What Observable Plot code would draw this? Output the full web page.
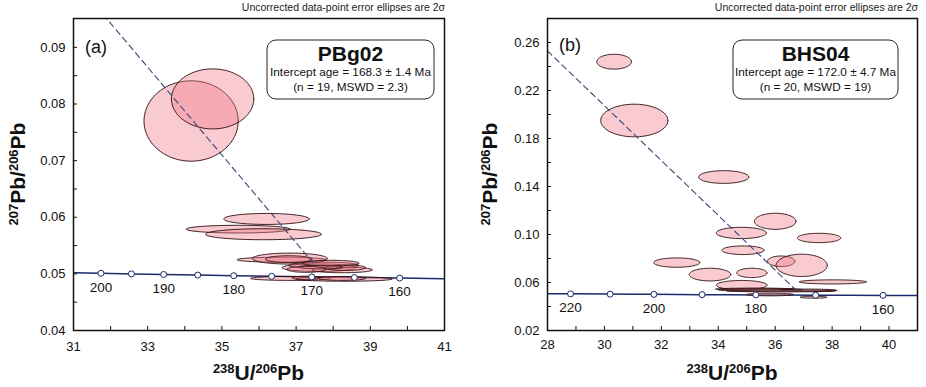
<!DOCTYPE html>
<html><head><meta charset="utf-8">
<script src="https://cdn.jsdelivr.net/npm/d3@7"></script>
<script src="https://cdn.jsdelivr.net/npm/@observablehq/plot@0.6"></script>
<style>
body{margin:0;background:#fff;}
#wrap{display:flex;width:926px;height:387px;overflow:hidden;}
svg{display:block;}
</style></head><body><div id="wrap"></div>
<script>
// ---------- data ----------
const noteText = "Uncorrected data-point error ellipses are 2σ";

// Concordia curve nodes (age Ma, 238U/206Pb, 207Pb/206Pb)
const concordiaAge = [150,155,160,165,170,175,180,185,190,195,200,205,210,220,230];
const concordiaU   = [42.48,41.09,39.79,38.57,37.42,36.34,35.32,34.35,33.43,32.56,31.74,30.95,30.20,28.81,27.53];
const concordiaPb  = [0.04905,0.04915,0.04926,0.04936,0.04947,0.04957,0.04968,0.04979,0.04989,0.05000,0.05011,0.05022,0.05032,0.05054,0.05076];

// Panel (a) PBg02
const sampleA = "PBg02";
const interceptA = "Intercept age = 168.3 ± 1.4 Ma";
const statsA = "(n = 19, MSWD = 2.3)";
const markerAgesA = [160,165,170,175,180,185,190,195,200];
const labelAgesA = [160,170,180,190,200];
const ellA_x  = [34.17,34.75,36.20,35.44,36.12,36.60,36.83,36.80,37.61,37.75,38.24,38.33,37.66,37.27,37.93,36.85,38.29,38.24,37.25];
const ellA_y  = [0.0770,0.0809,0.0597,0.0579,0.0570,0.0525,0.0527,0.0526,0.0511,0.0515,0.0507,0.0511,0.0512,0.0508,0.0519,0.0492,0.0491,0.0492,0.0493];
const ellA_rx = [1.27,1.11,1.15,1.40,1.56,1.19,1.01,0.63,0.99,0.94,0.81,0.54,0.58,0.52,0.76,1.08,1.30,0.63,0.36];
const ellA_ry = [0.0071,0.0053,0.00097,0.00068,0.00097,0.00044,0.00097,0.0006,0.00068,0.00059,0.0005,0.0005,0.00035,0.00053,0.0005,0.00035,0.0004,0.00035,0.0003];
const discA_x = [31.80,37.45];
const discA_y = [0.0958,0.0520];
const xTicksA = [31,32,33,34,35,36,37,38,39,40,41];
const xLabelsA = [31,33,35,37,39,41];
const yTicksA = [0.04,0.045,0.05,0.055,0.06,0.065,0.07,0.075,0.08,0.085,0.09];
const yLabelsA = [0.04,0.05,0.06,0.07,0.08,0.09];

// Panel (b) BHS04
const sampleB = "BHS04";
const interceptB = "Intercept age = 172.0 ± 4.7 Ma";
const statsB = "(n = 20, MSWD = 19)";
const markerAgesB = [160,170,180,190,200,210,220];
const labelAgesB = [160,180,200,220];
const ellB_x  = [30.34,31.05,34.19,36.00,34.81,37.54,34.87,32.54,36.21,36.93,33.71,35.18,34.82,38.02,35.49,37.17,35.82,37.34,35.30,36.20];
const ellB_y  = [0.244,0.195,0.1479,0.111,0.1013,0.0971,0.0869,0.0766,0.0777,0.0743,0.0666,0.068,0.0578,0.0605,0.0539,0.0535,0.0500,0.0477,0.0545,0.0530];
const ellB_rx = [0.61,1.18,0.88,0.73,0.88,0.76,0.74,0.81,0.48,0.90,0.73,0.53,0.89,1.18,1.49,1.00,0.82,0.47,1.40,1.90];
const ellB_ry = [0.0062,0.0136,0.0053,0.0067,0.0047,0.0039,0.0036,0.0039,0.0044,0.0093,0.0053,0.0039,0.0039,0.0017,0.0012,0.0010,0.0011,0.0008,0.0008,0.0008];
const discB_x = [28.0,36.8];
const discB_y = [0.253,0.052];
const xTicksB = [28,29,30,31,32,33,34,35,36,37,38,39,40,41];
const xLabelsB = [28,30,32,34,36,38,40];
const yTicksB = [0.02,0.04,0.06,0.08,0.10,0.12,0.14,0.16,0.18,0.20,0.22,0.24,0.26,0.28];
const yLabelsB = [0.02,0.06,0.10,0.14,0.18,0.22,0.26];

// ---------- helpers ----------
const FONT = '"Liberation Sans", Arial, Helvetica, sans-serif';
const NAVY = "#1c2a6b";

const concordia = concordiaAge.map((a, i) => ({age: a, x: concordiaU[i], y: concordiaPb[i]}));
function ellipseRows(xs, ys, rxs, rys) {
  const rows = [];
  xs.forEach((cx, i) => {
    for (let k = 0; k <= 80; k++) {
      const t = 2 * Math.PI * k / 80;
      rows.push({id: i, x: cx + rxs[i] * Math.cos(t), y: ys[i] + rys[i] * Math.sin(t)});
    }
  });
  return rows;
}

function panel(cfg) {
  const markers = concordia.filter(d => cfg.markerAges.includes(d.age));
  const labels = concordia.filter(d => cfg.labelAges.includes(d.age));
  const disc = cfg.discX.map((x, i) => ({x, y: cfg.discY[i]}));
  const ells = ellipseRows(cfg.ex, cfg.ey, cfg.erx, cfg.ery);
  const chart = Plot.plot({
    width: cfg.width, height: 387,
    marginLeft: cfg.ml, marginRight: cfg.mr, marginTop: 18, marginBottom: 57,
    style: {fontFamily: FONT, fontSize: "13px", color: "#111", background: "white", overflow: "visible"},
    x: {domain: cfg.xDomain},
    y: {domain: cfg.yDomain},
    marks: [
      Plot.line(concordia, {x: "x", y: "y", stroke: NAVY, strokeWidth: 1.5, clip: true}),
      Plot.line(ells, {x: "x", y: "y", z: "id", fill: "#f07a8a", fillOpacity: 0.4, stroke: "#2a0f10", strokeWidth: 0.9, clip: true}),
      Plot.line(disc, {x: "x", y: "y", stroke: "#3a4878", strokeWidth: 1.1, strokeDasharray: "6,4", clip: true}),
      Plot.dot(markers, {x: "x", y: "y", r: 3, fill: "white", stroke: NAVY, strokeWidth: 1}),
      Plot.text(labels, {x: "x", y: "y", text: d => String(d.age), dy: 14, fontSize: 13.5, fill: "#111"}),
      Plot.axisX({ticks: cfg.xTicks, tickFormat: d => cfg.xLabels.includes(d) ? String(d) : "", tickSize: -4, tickPadding: cfg.xPad, label: null}),
      Plot.axisY({ticks: cfg.yTicks, tickFormat: d => cfg.yLabels.includes(d) ? d.toFixed(2) : "", tickSize: -4, tickPadding: 12, label: null}),
      Plot.frame({stroke: "#111", strokeWidth: 1.5})
    ]
  });
  const svg = d3.select(chart);
  const W = cfg.width, fr = W - cfg.mr, fl = cfg.ml;
  // note
  svg.append("text").attr("x", fr + 1).attr("y", 11).attr("text-anchor", "end")
    .attr("font-size", 10.5).attr("fill", "#222").text(noteText);
  // panel letter
  svg.append("text").attr("x", fl + 12).attr("y", cfg.letterY).attr("text-anchor", "start")
    .attr("font-size", 18).attr("fill", "#111").text(cfg.letter);
  // info box
  const bx = cfg.boxX, bw = cfg.boxW, by = 40, bh = 59, cx = bx + bw / 2;
  svg.append("rect").attr("x", bx).attr("y", by).attr("width", bw).attr("height", bh)
    .attr("rx", 9).attr("fill", "white").attr("stroke", "#222").attr("stroke-width", 1);
  svg.append("text").attr("x", cx).attr("y", 61).attr("text-anchor", "middle")
    .attr("font-size", 21).attr("font-weight", "bold").attr("fill", "#111").text(cfg.sample);
  svg.append("text").attr("x", cx).attr("y", 75.5).attr("text-anchor", "middle")
    .attr("font-size", 11.8).attr("fill", "#111").text(cfg.intercept);
  svg.append("text").attr("x", cx).attr("y", 91).attr("text-anchor", "middle")
    .attr("font-size", 11.8).attr("fill", "#111").text(cfg.stats);
  // x title
  const xt = svg.append("text").attr("x", (fl + fr) / 2).attr("y", 380).attr("text-anchor", "middle")
    .attr("font-weight", "bold").attr("fill", "#111");
  xt.append("tspan").attr("font-size", 13).attr("dy", -7).text("238");
  xt.append("tspan").attr("font-size", 21).attr("dy", 7).text("U/");
  xt.append("tspan").attr("font-size", 13).attr("dy", -7).text("206");
  xt.append("tspan").attr("font-size", 21).attr("dy", 7).text("Pb");
  // y title
  const yt = svg.append("text").attr("transform", `translate(${cfg.yTitleX},174) rotate(-90)`)
    .attr("text-anchor", "middle").attr("font-weight", "bold").attr("fill", "#111");
  yt.append("tspan").attr("font-size", 13).attr("dy", -7).text("207");
  yt.append("tspan").attr("font-size", 21).attr("dy", 7).text("Pb/");
  yt.append("tspan").attr("font-size", 13).attr("dy", -7).text("206");
  yt.append("tspan").attr("font-size", 21).attr("dy", 7).text("Pb");
  return chart;
}

const wrap = document.getElementById("wrap");
wrap.appendChild(panel({
  width: 460, ml: 73, mr: 16, xDomain: [31, 41], yDomain: [0.04, 0.0951],
  ex: ellA_x, ey: ellA_y, erx: ellA_rx, ery: ellA_ry, discX: discA_x, discY: discA_y,
  markerAges: markerAgesA, labelAges: labelAgesA,
  xTicks: xTicksA, xLabels: xLabelsA, yTicks: yTicksA, yLabels: yLabelsA, xPad: 15,
  letter: "(a)", letterY: 53, sample: sampleA, intercept: interceptA, stats: statsA,
  boxX: 267, boxW: 167, yTitleX: 25
}));
wrap.appendChild(panel({
  width: 466, ml: 87, mr: 9, xDomain: [28, 41], yDomain: [0.02, 0.28],
  ex: ellB_x, ey: ellB_y, erx: ellB_rx, ery: ellB_ry, discX: discB_x, discY: discB_y,
  markerAges: markerAgesB, labelAges: labelAgesB,
  xTicks: xTicksB, xLabels: xLabelsB, yTicks: yTicksB, yLabels: yLabelsB, xPad: 13,
  letter: "(b)", letterY: 51, sample: sampleB, intercept: interceptB, stats: statsB,
  boxX: 273, boxW: 165, yTitleX: 37
}));
</script></body></html>
